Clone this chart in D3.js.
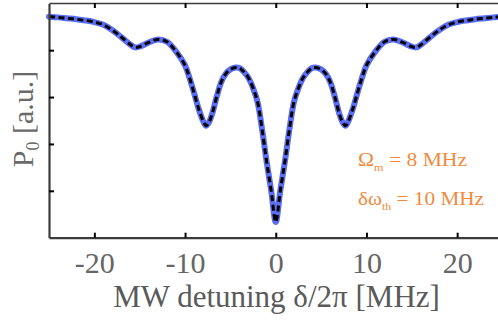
<!DOCTYPE html>
<html>
<head>
<meta charset="utf-8">
<script src="https://cdn.jsdelivr.net/npm/d3@7"></script>
<style>
  html, body { margin: 0; padding: 0; background: #fff; overflow: hidden; }
  svg { display: block; font-family: "Liberation Serif", "Times New Roman", serif; }
</style>
</head>
<body>
<svg id="chart" width="498" height="320"></svg>
<script>
// Detuning (MHz)
const detuning = [-25,-24,-23,-22,-21,-20,-19,-18,-17,-16,-15.5,-15,-14,-13,-12,-11,-10,-9.5,-9,-8.5,-8,-7.7,-7.4,-7,-6.5,-6,-5.5,-5,-4.4,-4,-3.5,-3,-2.5,-2,-1.5,-1,-0.5,0,
                  0.5,1,1.5,2,2.5,3,3.5,4,4.4,5,5.5,6,6.5,7,7.4,7.7,8,8.5,9,9.5,10,11,12,13,14,15,15.5,16,17,18,19,20,21,22,23,24,25];
// Simulated population P0 (a.u.)
const p0Sim = [0.943,0.940,0.936,0.932,0.927,0.920,0.908,0.885,0.855,0.823,0.812,0.815,0.833,0.846,0.836,0.795,0.735,0.681,0.617,0.550,0.497,0.478,0.490,0.530,0.603,0.665,0.700,0.718,0.726,0.724,0.707,0.681,0.638,0.578,0.460,0.323,0.200,0.067,
               0.200,0.323,0.460,0.578,0.638,0.681,0.707,0.724,0.726,0.718,0.700,0.665,0.603,0.530,0.490,0.478,0.497,0.550,0.617,0.681,0.735,0.795,0.836,0.846,0.833,0.815,0.812,0.823,0.855,0.885,0.908,0.920,0.927,0.932,0.936,0.940,0.943];
// Fitted / analytic curve (overlays the simulation)
const p0Fit = p0Sim.slice();
const xTicks = [-20,-10,0,10,20];
const yTicks = [0.2,0.4,0.6,0.8];
const annotations = [
  {main: "\u03A9", sub: "m", rest: " = 8 MHz"},
  {main: "\u03B4\u03C9", sub: "th", rest: " = 10 MHz"}
];

const svg = d3.select("#chart");
const mLeft = 49, mTop = 3, mBottom = 237.7;
const x = d3.scaleLinear().domain([-25, 25]).range([mLeft, mLeft + 453.5]);
const y = d3.scaleLinear().domain([0, 1]).range([mBottom, mTop + 0.3]);

const axisColor = "#3c3c3c";
const textColor = "#666666";

// Curves
const line = d3.line().x((d, i) => x(detuning[i])).y(d => y(d)).curve(d3.curveCatmullRom.alpha(0.5));
const g = svg.append("g");
g.append("path").datum(p0Sim).attr("d", line)
  .attr("fill", "none").attr("stroke", "#5b6ef2").attr("stroke-width", 6)
  .attr("stroke-linejoin", "round").attr("stroke-linecap", "round");
g.append("path").datum(p0Fit).attr("d", line)
  .attr("fill", "none").attr("stroke", "#000").attr("stroke-width", 3)
  .attr("stroke-dasharray", "6,3.5");

// Axes
const xAxisB = d3.axisBottom(x).tickValues(xTicks).tickSizeInner(-5).tickSizeOuter(0).tickFormat(d => d < 0 ? "-" + Math.abs(d) : d);
const gx = svg.append("g").attr("transform", `translate(0,${mBottom})`).call(xAxisB);
gx.attr("font-family", "Liberation Serif");
gx.select(".domain").attr("stroke", axisColor).attr("stroke-width", 2.2);
gx.selectAll(".tick line").attr("stroke", "#000").attr("stroke-width", 2);
gx.selectAll(".tick text").attr("font-family", "Liberation Serif").attr("font-size", 30).attr("fill", textColor)
  .attr("dy", "0.71em").attr("y", 14);

const xAxisT = d3.axisTop(x).tickValues(xTicks).tickSizeInner(-5).tickSizeOuter(0).tickFormat("");
const gxt = svg.append("g").attr("transform", `translate(0,${mTop})`).call(xAxisT);
gxt.select(".domain").attr("stroke", axisColor).attr("stroke-width", 1.5);
gxt.selectAll(".tick line").attr("stroke", "#000").attr("stroke-width", 2);

const yAxis = d3.axisLeft(y).tickValues(yTicks).tickSizeInner(-5).tickSizeOuter(0).tickFormat("");
const gy = svg.append("g").attr("transform", `translate(${mLeft},0)`).call(yAxis);
gy.select(".domain").attr("stroke", axisColor).attr("stroke-width", 2.2);
gy.selectAll(".tick line").attr("stroke", "#000").attr("stroke-width", 2);

// X label
svg.append("text").attr("x", 276.5).attr("y", 307).attr("text-anchor", "middle")
  .attr("font-size", 31).attr("fill", "#5a5a5a").text("MW detuning \u03B4/2\u03C0 [MHz]");

// Y label
const yl = svg.append("text").attr("transform", "translate(33,119) rotate(-90)").attr("text-anchor", "middle")
  .attr("font-size", 30).attr("fill", "#6a6a6a");
yl.append("tspan").text("P");
yl.append("tspan").attr("font-size", 18).attr("dy", 6).text("0");
yl.append("tspan").attr("dy", -6).text(" [a.u.]");

// Annotations
const annY = [166, 205];
const annLen = [109, 126];
annotations.forEach((a, i) => {
  const t = svg.append("text").attr("x", 358).attr("y", annY[i]).attr("font-size", 19.5).attr("fill", "#f28a3c")
    .attr("textLength", annLen[i]).attr("lengthAdjust", "spacingAndGlyphs");
  t.append("tspan").text(a.main);
  t.append("tspan").attr("font-size", 11).attr("dy", 5).text(a.sub);
  t.append("tspan").attr("dy", -5).text(a.rest);
});
</script>
</body>
</html>
